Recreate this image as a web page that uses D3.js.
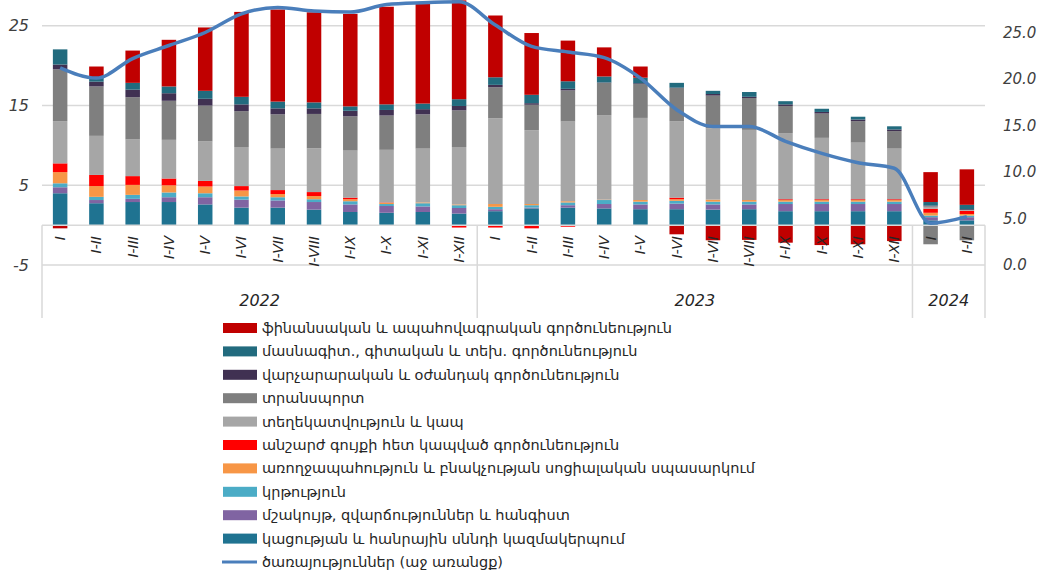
<!DOCTYPE html>
<html>
<head>
<meta charset="utf-8">
<script src="https://cdn.jsdelivr.net/npm/d3@7"></script>
<style>
  body { margin: 0; background: #fff; }
  svg { display: block; }
</style>
</head>
<body>
<div id="chart"></div>
<script>
// periods (cumulative months) and year groups
const periods = ["I", "I-II", "I-III", "I-IV", "I-V", "I-VI", "I-VII", "I-VIII", "I-IX", "I-X", "I-XI", "I-XII",
                 "I", "I-II", "I-III", "I-IV", "I-V", "I-VI", "I-VII", "I-VIII", "I-IX", "I-X", "I-XI", "I-XII",
                 "I", "I-II"];
const years = ["2022", "2023", "2024"];
const yearCounts = [12, 12, 2];

// contributions, percentage points (stacked bottom -> top)
const accommodation = [4.0, 2.75, 2.9, 2.9, 2.6, 2.2, 2.2, 1.95, 1.65, 1.55, 1.65, 1.45, 1.75, 2.1, 2.2, 2.1, 2.0, 2.0, 1.95, 2.0, 1.75, 1.75, 1.75, 1.75, 0.6, 0.6];
const culture = [0.75, 0.4, 0.4, 0.6, 0.9, 1.0, 0.9, 0.95, 0.95, 0.85, 0.7, 0.7, 0.25, 0.1, 0.3, 0.55, 0.6, 0.7, 0.65, 0.6, 0.9, 0.9, 0.9, 0.9, 0.4, 0.4];
const education = [0.5, 0.4, 0.5, 0.6, 0.5, 0.4, 0.4, 0.35, 0.4, 0.25, 0.4, 0.35, 0.3, 0.3, 0.35, 0.5, 0.35, 0.35, 0.35, 0.35, 0.3, 0.3, 0.3, 0.3, 0.2, 0.2];
const health = [1.4, 1.35, 1.25, 0.9, 0.85, 0.75, 0.4, 0.4, 0.25, 0.15, 0.1, 0.1, 0.35, 0.15, 0.15, 0.05, 0.2, 0.2, 0.25, 0.2, 0.2, 0.2, 0.2, 0.2, 0.35, 0.2];
const realEstate = [1.1, 1.4, 1.1, 0.85, 0.7, 0.55, 0.5, 0.5, 0.2, 0.05, 0, -0.3, -0.3, -0.4, -0.2, 0, 0, 0.2, 0, 0, 0.1, 0.1, 0.1, 0.1, 0.5, 0.4];
const info = [5.3, 4.9, 4.6, 4.85, 4.95, 4.9, 5.2, 5.5, 5.9, 6.6, 6.75, 7.2, 10.75, 9.25, 10.0, 10.6, 10.3, 9.6, 8.95, 8.8, 8.3, 7.7, 7.1, 6.35, 0.3, 0.1];
const transport = [6.5, 6.2, 5.3, 4.9, 4.5, 4.5, 4.3, 4.3, 4.3, 4.3, 4.3, 4.6, 3.9, 3.2, 3.9, 4.05, 4.25, 4.15, 4.1, 4.0, 3.4, 3.05, 2.7, 2.2, -2.4, -1.9];
const admin = [0.6, 0.6, 0.95, 0.95, 0.85, 0.85, 0.75, 0.7, 0.7, 0.7, 0.65, 0.55, 0.3, 0.2, 0.2, 0.05, 0.1, 0.05, 0.2, 0.15, 0.2, 0.2, 0.2, 0.2, 0.1, 0.1];
const professional = [1.9, 0.55, 0.85, 0.85, 1.0, 0.95, 0.85, 0.75, 0.55, 0.7, 0.7, 0.85, 0.95, 1.05, 0.95, 0.75, 0.7, 0.6, 0.4, 0.6, 0.4, 0.4, 0.35, 0.4, 0.45, 0.55];
const finance = [-0.4, 1.35, 4.05, 5.85, 7.95, 10.65, 11.55, 11.3, 11.6, 12.25, 12.7, 12.4, 7.75, 7.75, 5.1, 3.65, 1.4, -1.15, -1.9, -1.85, -2.2, -2.5, -2.4, -2.0, 3.75, 4.45];

// services growth, right axis
const services = [21.2, 20.1, 22.2, 23.6, 25.0, 27.0, 27.7, 27.3, 27.2, 28.0, 28.2, 28.3, 25.8, 23.5, 22.9, 22.3, 20.1, 16.7, 14.9, 14.9, 13.3, 12.0, 11.0, 10.4, 4.5, 5.2];

const leftTicks = [-5, 5, 15, 25];
const rightTicks = [0, 5, 10, 15, 20, 25];

const series = [
  { key: "accommodation", name: "կացության և հանրային սննդի կազմակերպում", values: accommodation, color: "#1F7391" },
  { key: "culture", name: "մշակույթ, զվարճություններ և հանգիստ", values: culture, color: "#8064A2" },
  { key: "education", name: "կրթություն", values: education, color: "#4BACC6" },
  { key: "health", name: "առողջապահություն և բնակչության սոցիալական սպասարկում", values: health, color: "#F79646" },
  { key: "realEstate", name: "անշարժ գույքի հետ կապված գործունեություն", values: realEstate, color: "#FF0000" },
  { key: "info", name: "տեղեկատվություն և կապ", values: info, color: "#A6A6A6" },
  { key: "transport", name: "տրանսպորտ", values: transport, color: "#7F7F7F" },
  { key: "admin", name: "վարչարարական և օժանդակ գործունեություն", values: admin, color: "#403152" },
  { key: "professional", name: "մասնագիտ., գիտական և տեխ. գործունեություն", values: professional, color: "#226B7E" },
  { key: "finance", name: "ֆինանսական և ապահովագրական գործունեություն", values: finance, color: "#C00000" }
];
const lineName = "ծառայություններ (աջ առանցք)";
const lineColor = "#4A7EBB";

const W = 1049, H = 583;
const plot = { left: 42, right: 985, top: -14, bottom: 265 };
const gridColor = "#D9D9D9";
const textColor = "#404040";

const svg = d3.select("#chart").append("svg")
  .attr("width", W).attr("height", H);

const rows = periods.map((p, i) => {
  const r = { i: i };
  series.forEach(s => { r[s.key] = s.values[i]; });
  return r;
});

const x = d3.scaleBand()
  .domain(d3.range(periods.length))
  .range([plot.left, plot.right])
  .paddingInner(0.6)
  .paddingOuter(0.3);

const yL = d3.scaleLinear().domain([-5, 30]).range([plot.bottom, plot.top]);
const yR = d3.scaleLinear().domain([0, 30]).range([plot.bottom, plot.top]);

// gridlines
svg.append("g").selectAll("line")
  .data(leftTicks.filter(t => t > 0))
  .enter().append("line")
  .attr("x1", plot.left).attr("x2", plot.right)
  .attr("y1", d => yL(d)).attr("y2", d => yL(d))
  .attr("stroke", gridColor).attr("stroke-width", 1.5);

// stacked bars
const stacked = d3.stack()
  .keys(series.map(s => s.key))
  .offset(d3.stackOffsetDiverging)(rows);

svg.append("g").selectAll("g")
  .data(stacked)
  .enter().append("g")
  .attr("fill", (d, k) => series[k].color)
  .selectAll("rect")
  .data(d => d)
  .enter().append("rect")
  .attr("x", d => x(d.data.i))
  .attr("width", x.bandwidth())
  .attr("y", d => yL(Math.max(d[0], d[1])))
  .attr("height", d => Math.abs(yL(d[0]) - yL(d[1])));

// category table lines
const tableBottom = 318;
const g = svg.append("g").attr("stroke", gridColor).attr("stroke-width", 1.5);
g.append("line").attr("x1", plot.left).attr("x2", plot.right)
  .attr("y1", yL(0)).attr("y2", yL(0));
g.append("line").attr("x1", plot.left).attr("x2", plot.right)
  .attr("y1", yL(-5)).attr("y2", yL(-5));
let acc = 0;
const bounds = [0];
yearCounts.forEach(c => { acc += c; bounds.push(acc); });
g.selectAll(".sep").data(bounds).enter().append("line")
  .attr("x1", d => plot.left + d * x.step()).attr("x2", d => plot.left + d * x.step())
  .attr("y1", yL(0)).attr("y2", tableBottom);

// services line
const line = d3.line()
  .x((d, i) => x(i) + x.bandwidth() / 2)
  .y(d => yR(d))
  .curve(d3.curveMonotoneX);

svg.append("path")
  .datum(services)
  .attr("d", line)
  .attr("fill", "none")
  .attr("stroke", lineColor)
  .attr("stroke-width", 3.5)
  .attr("stroke-linejoin", "round");

// period labels
svg.append("g").selectAll("text")
  .data(periods)
  .enter().append("text")
  .attr("transform", (d, i) => `translate(${x(i) + x.bandwidth() / 2},236) rotate(-90)`)
  .attr("text-anchor", "end")
  .attr("dy", "0.35em")
  .attr("font-family", "DejaVu Sans")
  .attr("font-style", "italic")
  .attr("font-size", 14)
  .attr("fill", "#262626")
  .text(d => d);

// year labels
svg.append("g").selectAll("text")
  .data(years)
  .enter().append("text")
  .attr("x", (d, k) => plot.left + (bounds[k] + bounds[k + 1]) / 2 * x.step())
  .attr("y", 306)
  .attr("text-anchor", "middle")
  .attr("font-family", "DejaVu Sans")
  .attr("font-style", "italic")
  .attr("font-size", 16)
  .attr("fill", "#262626")
  .text(d => d);

// axes labels
svg.append("g").selectAll("text")
  .data(leftTicks)
  .enter().append("text")
  .attr("x", 29).attr("y", d => yL(d))
  .attr("dy", "0.35em")
  .attr("text-anchor", "end")
  .attr("font-family", "DejaVu Sans")
  .attr("font-style", "italic")
  .attr("font-size", 16)
  .attr("fill", textColor)
  .text(d => d);

svg.append("g").selectAll("text")
  .data(rightTicks)
  .enter().append("text")
  .attr("x", 1003).attr("y", d => yR(d))
  .attr("dy", "0.35em")
  .attr("text-anchor", "start")
  .attr("font-family", "DejaVu Sans")
  .attr("font-style", "italic")
  .attr("font-size", 15)
  .attr("fill", textColor)
  .text(d => d3.format(".1f")(d));

// legend
const legendItems = series.slice().reverse().map(s => ({ name: s.name, color: s.color, type: "bar" }));
legendItems.push({ name: lineName, color: lineColor, type: "line" });

const legend = svg.append("g");
const item = legend.selectAll("g")
  .data(legendItems)
  .enter().append("g")
  .attr("transform", (d, i) => `translate(223,${328 + i * 23.4})`);

item.filter(d => d.type === "bar").append("rect")
  .attr("x", 0).attr("y", -5).attr("width", 34).attr("height", 10)
  .attr("fill", d => d.color);
item.filter(d => d.type === "line").append("line")
  .attr("x1", -1).attr("x2", 34).attr("y1", 0).attr("y2", 0)
  .attr("stroke", d => d.color).attr("stroke-width", 3);
item.append("text")
  .attr("x", 39).attr("dy", "0.35em")
  .attr("font-family", "DejaVu Sans")
  .attr("font-size", 14.5)
  .attr("fill", "#262626")
  .text(d => d.name);
</script>
</body>
</html>
